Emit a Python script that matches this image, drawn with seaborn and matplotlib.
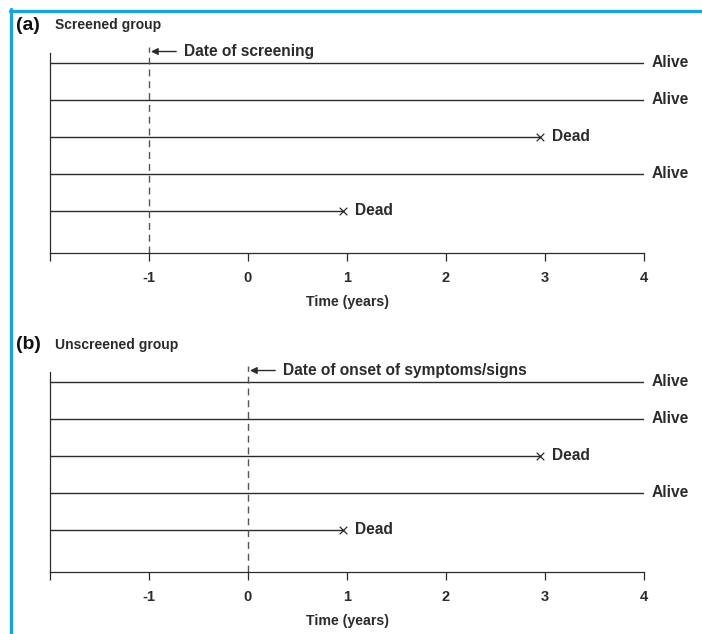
import pandas as pd
import numpy as np
import seaborn as sns
import matplotlib.pyplot as plt
from matplotlib.lines import Line2D

# follow-up of five subjects, same in both groups
subjects = ['s1', 's2', 's3', 's4', 's5']
rows = [5, 4, 3, 2, 1]
start_time = [-2, -2, -2, -2, -2]
end_time = [4, 4, 2.95, 4, 0.96]
status = ['Alive', 'Alive', 'Dead', 'Alive', 'Dead']

tick_values = [-2, -1, 0, 1, 2, 3, 4]
tick_labels = ['', '-1', '0', '1', '2', '3', '4']

panels = ['(a)', '(b)']
panel_titles = ['Screened group', 'Unscreened group']
ref_times = [-1, 0]
ref_labels = ['Date of screening', 'Date of onset of symptoms/signs']

W, H = 702, 634
INK = '#2b2b2b'
BLUE = '#1aa3dd'

sns.set_style('ticks')
plt.rcParams['font.family'] = ['Liberation Sans', 'DejaVu Sans']
plt.rcParams['font.weight'] = 'bold'

# long table: one start and one end point per subject
seg = pd.DataFrame({
    'subject': subjects * 2,
    'time': start_time + end_time,
    'row': rows * 2,
})
ends = pd.DataFrame({'subject': subjects, 'time': end_time, 'row': rows, 'status': status})

fig = plt.figure(figsize=(W / 100, H / 100), dpi=100)


def px_axes(left, top, right, bottom):
    return fig.add_axes([left / W, 1 - bottom / H, (right - left) / W, (bottom - top) / H])


axes_tops = [53, 372]
title_y = [25, 345]

for i in range(2):
    ax = px_axes(50, axes_tops[i], 644, axes_tops[i] + 200)
    sns.lineplot(data=seg, x='time', y='row', units='subject', estimator=None,
                 color=INK, lw=1.0, ax=ax, legend=False)
    dead = ends[ends.status == 'Dead']
    sns.scatterplot(data=dead, x='time', y='row', marker='x', s=30, color=INK,
                    linewidth=0.9, ax=ax, legend=False, clip_on=False, zorder=3)

    for _, r in ends.iterrows():
        if r.status == 'Alive':
            ax.text(r.time + 0.08, r.row, 'Alive', va='center', ha='left',
                    fontsize=11.2, fontweight='bold', color=INK, clip_on=False)
        else:
            ax.text(r.time + 0.12, r.row, 'Dead', va='center', ha='left',
                    fontsize=11.2, fontweight='bold', color=INK, clip_on=False)

    # reference date line with arrow
    ax.plot([ref_times[i], ref_times[i]], [-0.14, 5.42], ls=(0, (5, 3.5)), lw=1.0,
            color='#555555', clip_on=False)
    ax.annotate(ref_labels[i], xy=(ref_times[i] + 0.02, 5.31),
                xytext=(ref_times[i] + 0.35, 5.31), va='center', ha='left',
                fontsize=11.2, fontweight='bold', color=INK, annotation_clip=False,
                arrowprops=dict(arrowstyle='-|>', color=INK, lw=1.0,
                                mutation_scale=10, shrinkA=3, shrinkB=0))

    ax.set_xlim(-2, 4)
    ax.set_ylim(-0.14, 5.27)
    ax.set_xticks(tick_values)
    ax.set_xticklabels(tick_labels, fontsize=10.5, fontweight='bold', color=INK)
    ax.set_yticks([])
    ax.set_ylabel('')
    ax.set_xlabel('Time (years)', fontsize=10.2, fontweight='bold', color=INK, labelpad=7)
    ax.tick_params(axis='x', direction='out', length=6, width=0.9, color=INK, pad=7)
    sns.despine(ax=ax, top=True, right=True)
    for sp in ['left', 'bottom']:
        ax.spines[sp].set_color(INK)
        ax.spines[sp].set_linewidth(0.9)

    fig.text(16 / W, 1 - title_y[i] / H, panels[i], fontsize=14, fontweight='bold',
             va='center', ha='left', color='#111111')
    fig.text(55 / W, 1 - title_y[i] / H, panel_titles[i], fontsize=10, fontweight='bold',
             va='center', ha='left', color=INK)

# blue frame along top and left edges
fig.add_artist(Line2D([10.5 / W, 10.5 / W], [1 - 9 / H, 0], color=BLUE, lw=2.4,
                      transform=fig.transFigure))
fig.add_artist(Line2D([9.5 / W, 1], [1 - 10.5 / H, 1 - 10.5 / H], color=BLUE, lw=2.4,
                      transform=fig.transFigure))

fig.savefig('out.png', dpi=100)
